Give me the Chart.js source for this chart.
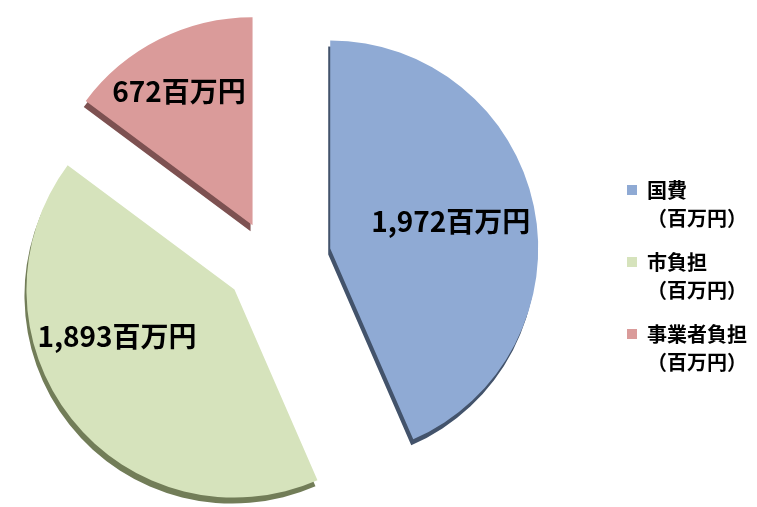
<!DOCTYPE html>
<html>
<head>
<meta charset="utf-8">
<script src="https://cdn.jsdelivr.net/npm/chart.js@4.4.1/dist/chart.umd.min.js"></script>
<style>
  html, body { margin: 0; padding: 0; background: #fff; overflow: hidden; }
  /* digeser ke kiri supaya pusat pie pas, legend tetap di tepi kanan */
  #wrap { position: relative; left: -70px; width: 827px; height: 507px; }
</style>
</head>
<body>
<div id="wrap"><canvas id="g1"></canvas></div>
<script>
// data (百万円)
var kubun = [['国費', '（百万円）'], ['市負担', '（百万円）'], ['事業者負担', '（百万円）']];
var kingaku = [1972, 1893, 672];
var warna = ['#8faad4', '#d6e3bc', '#da9b9a'];
var warnaSisi = ['#43536b', '#727d58', '#7d5151'];

var fontJp = '"Noto Sans CJK JP", "Noto Sans", sans-serif';

// jarak pecahan slice dari pusat (px)
var jarak = [61, 46, 40];
// posisi label: fraksi radius & geser sudut (derajat)
var labelFraksi = [0.594, 0.607, 0.733];
var labelGeser = [-0.9, 16.9, -2.2];

// gambar slice sendiri: sisi gelap (efek 3D) lalu muka, digeser keluar
var pecahPie = {
    id: 'pecahPie',
    beforeDatasetsDraw: function(chart) {
        var ctx = chart.ctx;
        chart.getDatasetMeta(0).data.forEach(function(arc, i) {
            var a = (arc.startAngle + arc.endAngle) / 2;
            var dx = Math.cos(a) * jarak[i], dy = Math.sin(a) * jarak[i];
            var o = arc.options;
            var bg = o.backgroundColor;
            ctx.save();
            ctx.translate(dx - 2, dy + 6);
            o.backgroundColor = warnaSisi[i];
            arc.draw(ctx);
            o.backgroundColor = bg;
            ctx.restore();
            ctx.save();
            ctx.translate(dx, dy);
            arc.draw(ctx);
            ctx.restore();
        });
        return false;
    }
};

// label nilai di tiap slice
var labelNilai = {
    id: 'labelNilai',
    afterDraw: function(chart) {
        var ctx = chart.ctx;
        ctx.save();
        ctx.font = 'bold 28px ' + fontJp;
        ctx.fillStyle = '#000';
        ctx.textAlign = 'center';
        ctx.textBaseline = 'middle';
        chart.getDatasetMeta(0).data.forEach(function(arc, i) {
            var a = (arc.startAngle + arc.endAngle) / 2;
            var la = a + labelGeser[i] * Math.PI / 180;
            var r = arc.outerRadius * labelFraksi[i];
            var x = arc.x + Math.cos(a) * jarak[i] + Math.cos(la) * r;
            var y = arc.y + Math.sin(a) * jarak[i] + Math.sin(la) * r;
            ctx.fillText(kingaku[i].toLocaleString('en-US') + '百万円', x, y);
        });
        ctx.restore();
    }
};

var ctx_1 = document.getElementById('g1');

var myChart = new Chart(ctx_1, {
    type: 'pie',
    data: {
        labels: kubun,
        datasets: [{
            data: kingaku,
            backgroundColor: warna,
            borderWidth: 0,
            radius: 208
        }]
    },
    options: {
        responsive: true,
        maintainAspectRatio: false,
        animation: false,
        layout: {
            padding: { left: 0, top: 15, right: 0, bottom: 0 }
        },
        plugins: {
            tooltip: { enabled: false },
            legend: {
                position: 'right',
                title: {
                    display: true,
                    text: ' ',
                    font: { size: 12, lineHeight: 1.2 },
                    padding: { top: 23.6, bottom: 0 }
                },
                labels: {
                    boxWidth: 10,
                    boxHeight: 10,
                    padding: 16,
                    color: '#000',
                    font: { family: fontJp, size: 20, weight: 'bold', lineHeight: 1.4 }
                }
            }
        }
    },
    plugins: [pecahPie, labelNilai]
});
</script>
</body>
</html>
